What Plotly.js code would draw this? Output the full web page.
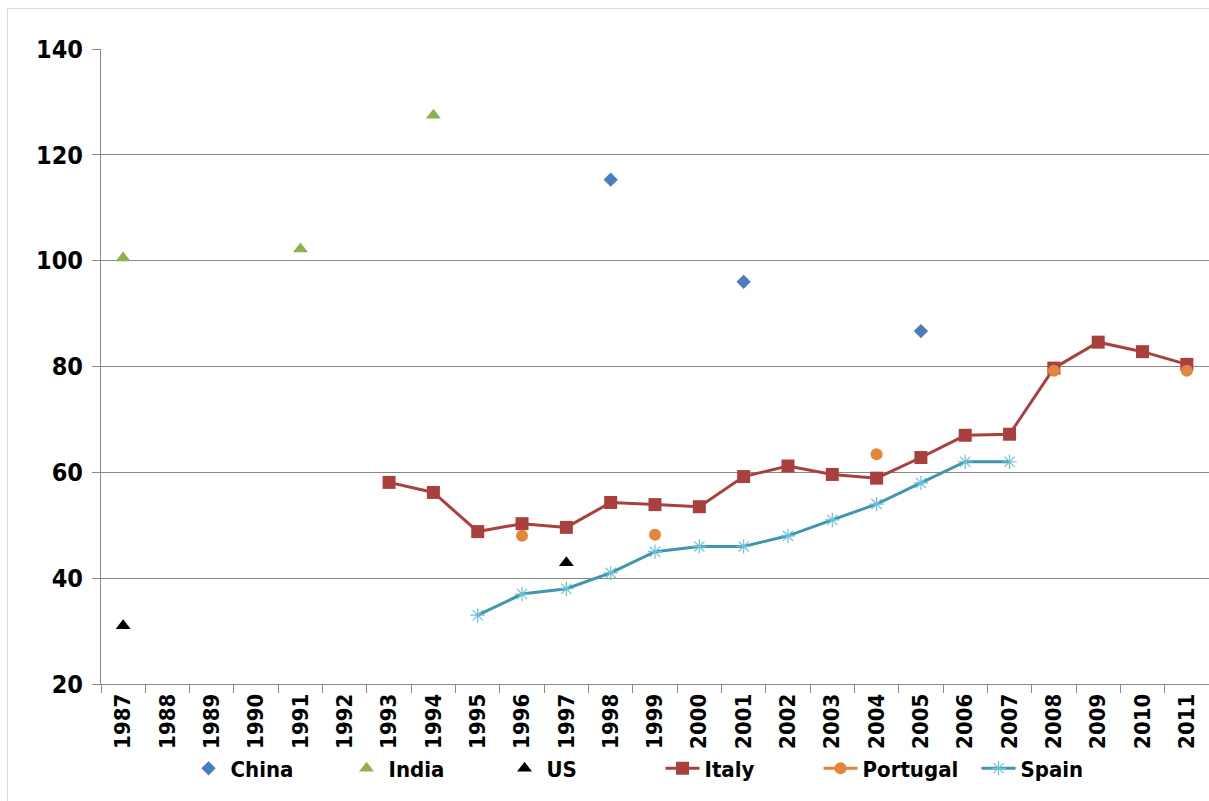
<!DOCTYPE html>
<html>
<head>
<meta charset="utf-8">
<script src="https://cdn.plot.ly/plotly-3.0.1.min.js"></script>
<style>
  html, body { margin: 0; padding: 0; background: #fff; }
  #wrap { position: relative; width: 1209px; height: 801px; }
  #chart { width: 1209px; height: 801px; }
  #frame { position: absolute; left: 7px; top: 8px; right: -2px; bottom: -2px;
           border-left: 1px solid #d9d9d9; border-top: 1px solid #d9d9d9; pointer-events: none; }
</style>
</head>
<body>
<div id="wrap"><div id="chart"></div><div id="frame"></div></div>
<script>
const YEARS = ['1987','1988','1989','1990','1991','1992','1993','1994','1995','1996','1997','1998',
  '1999','2000','2001','2002','2003','2004','2005','2006','2007','2008','2009','2010','2011'];

const chinaX = ['1998','2001','2005'];
const chinaY = [115.3, 96, 86.7];

const indiaX = ['1987','1991','1994'];
const indiaY = [100.5, 102.2, 127.5];

const usX = ['1987','1997'];
const usY = [31, 42.9];

const italyX = ['1993','1994','1995','1996','1997','1998','1999','2000','2001','2002','2003',
  '2004','2005','2006','2007','2008','2009','2010','2011'];
const italyY = [58.1, 56.2, 48.8, 50.3, 49.6, 54.3, 53.9, 53.5, 59.2, 61.2, 59.6,
  58.9, 62.8, 67, 67.2, 79.7, 84.6, 82.8, 80.4];

// gaps (null) keep the points unconnected, as in the original line series
const portugalX = ['1996','1997','1998','1999','2000','2001','2002','2003','2004','2005',
  '2006','2007','2008','2009','2010','2011'];
const portugalY = [48, null, null, 48.2, null, null, null, null, 63.4, null,
  null, null, 79.2, null, null, 79.2];

const spainX = ['1995','1996','1997','1998','1999','2000','2001','2002','2003','2004','2005','2006','2007'];
const spainY = [33, 37, 38, 41, 45, 46, 46, 48, 51, 54, 58, 62, 62];

const NARROW = '"Liberation Sans Narrow", "DejaVu Sans Condensed", Arial, sans-serif';

const traces = [
  {name:'China', x:chinaX, y:chinaY, type:'scatter', mode:'markers',
   marker:{symbol:'diamond', size:11, color:'#4A7EBB'}},
  {name:'India', x:indiaX, y:indiaY, type:'scatter', mode:'markers',
   marker:{symbol:'triangle-up', size:13, color:'#8FB050'}},
  {name:'US', x:usX, y:usY, type:'scatter', mode:'markers',
   marker:{symbol:'triangle-up', size:13, color:'#000000'}},
  {name:'Italy', x:italyX, y:italyY, type:'scatter', mode:'lines+markers',
   line:{color:'#A9403D', width:3}, marker:{symbol:'square', size:13, color:'#A9403D'}},
  {name:'Portugal', x:portugalX, y:portugalY, type:'scatter', mode:'lines+markers',
   connectgaps:false, marker:{symbol:'circle', size:12, color:'#E4863A'}, line:{color:'#E4863A', width:3}},
  {name:'Spain', x:spainX, y:spainY, type:'scatter', mode:'lines+markers',
   line:{color:'#3E97AE', width:3},
   marker:{symbol:'asterisk-open', size:12, color:'#6CC0DA', line:{color:'#6CC0DA', width:1.2}}},
];

const layout = {
  width:1209, height:801,
  margin:{l:101, r:0, t:49, b:117},
  paper_bgcolor:'#fff', plot_bgcolor:'#fff',
  font:{family:NARROW, color:'#000'},
  showlegend:true,
  legend:{orientation:'h', x:0.505, xanchor:'center', y:-0.1, yanchor:'top',
    bgcolor:'rgba(0,0,0,0)',
    font:{family:NARROW, size:22, weight:'bold', color:'#000'}, itemwidth:34,
    entrywidth:109, entrywidthmode:'pixels'},
  xaxis:{type:'category', categoryorder:'array', categoryarray:YEARS, range:[-0.5, 24.5],
    tickson:'boundaries', ticks:'outside', ticklen:8, tickcolor:'#888', tickwidth:1,
    showline:true, linecolor:'#888', linewidth:1, showgrid:false, zeroline:false,
    tickangle:-90, tickfont:{family:NARROW, size:22, weight:'bold', color:'#000'}},
  yaxis:{range:[20,140], dtick:20, tick0:20, ticks:'outside', ticklen:8, tickcolor:'#888',
    showline:true, linecolor:'#888', linewidth:1, showgrid:true, gridcolor:'#888', gridwidth:1,
    zeroline:false, tickfont:{family:NARROW, size:25, weight:'bold', color:'#000'}, ticklabelstandoff:4},
};

Plotly.newPlot('chart', traces, layout, {displayModeBar:false, staticPlot:true});
</script>
</body>
</html>
